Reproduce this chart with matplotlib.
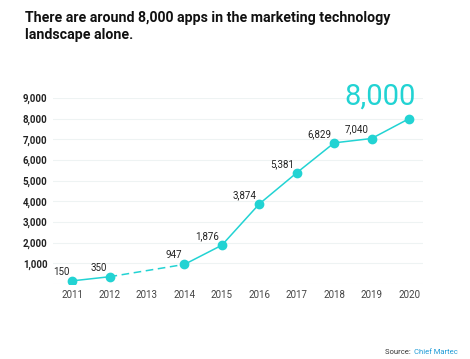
import numpy as np
import matplotlib.pyplot as plt

years = [2011, 2012, 2013, 2014, 2015, 2016, 2017, 2018, 2019, 2020]
apps = [150, 350, None, 947, 1876, 3874, 5381, 6829, 7040, 8000]
labels = ['150', '350', '', '947', '1,876', '3,874', '5,381', '6,829', '7,040', '8,000']
yticks = [1000, 2000, 3000, 4000, 5000, 6000, 7000, 8000, 9000]

teal = '#22D3D3'
plt.rcParams['font.family'] = ['Roboto', 'DejaVu Sans']

fig = plt.figure(figsize=(4.7, 3.59), dpi=100)
ax = fig.add_axes([0.1128, 0.209, 0.787, 0.518])

x = np.array(years, dtype=float)
y = np.array([np.nan if v is None else v for v in apps], dtype=float)

# solid parts, dashed bridge over the missing year
ax.plot(x[:2], y[:2], color=teal, lw=1.1, zorder=3)
ax.plot(x[3:], y[3:], color=teal, lw=1.1, zorder=3)
ax.plot([x[1], x[3]], [y[1], y[3]], color=teal, lw=1.1, ls=(0, (5, 3)), zorder=3)
ax.plot(x, y, 'o', color=teal, ms=6, zorder=4)

for xi, yi, lab in zip(x[:-1], y[:-1], labels[:-1]):
    if np.isnan(yi):
        continue
    ax.annotate(lab, (xi, yi), xytext=(-2, 6.5), textcoords='offset points',
                ha='right', va='center', fontsize=7, color='#222222')
ax.annotate(labels[-1], (x[-1], y[-1]), xytext=(-21, 16), textcoords='offset points',
            ha='center', va='center', fontsize=21, color=teal)

ax.set_xlim(2010.49, 2020.37)
ax.set_ylim(0, 9000)
ax.set_xticks(years)
ax.set_xticklabels([str(v) for v in years], fontsize=7, color='#444444')
ax.set_yticks([0] + yticks)
ax.set_yticklabels([''] + ['{:,}'.format(v) for v in yticks], fontsize=7,
                   color='#222222', fontweight='bold')
ax.tick_params(axis='x', length=0, pad=4)
ax.tick_params(axis='y', length=0, pad=4)
ax.grid(axis='y', color='#EEF3F3', lw=0.8)
ax.set_axisbelow(True)
for s in ax.spines.values():
    s.set_visible(False)

fig.text(25 / 470, 1 - 11 / 359, 'There are around 8,000 apps in the marketing technology\nlandscape alone.',
         fontsize=10.2, fontweight='bold', color='#111111', ha='left', va='top',
         linespacing=1.25)
fig.text(1 - 12 / 470, 1 - 352 / 359, 'Chief Martec', fontsize=5.5, color='#1E9BD7',
         ha='right', va='center')
fig.text(1 - 57 / 470, 1 - 352 / 359, 'Source: ', fontsize=5.5, color='#333333',
         ha='right', va='center')

fig.savefig('out.png', dpi=100)
